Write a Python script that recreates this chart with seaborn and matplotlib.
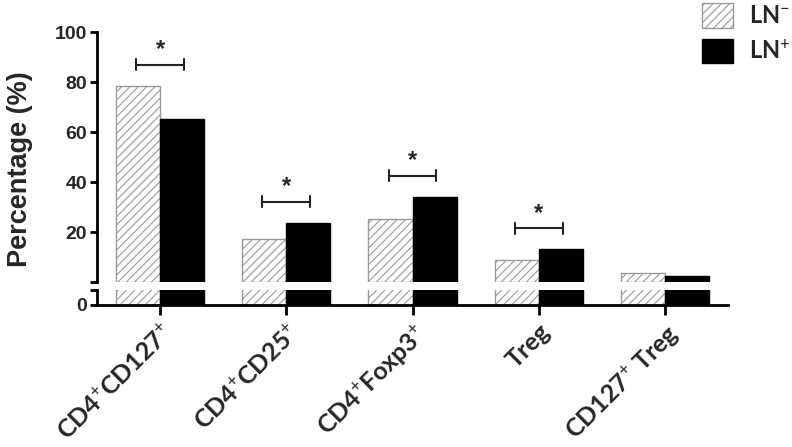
import matplotlib
matplotlib.use('Agg')
import matplotlib.pyplot as plt
from matplotlib.patches import Patch
import seaborn as sns
import pandas as pd

# data
categories = [r'CD4$^{+}$CD127$^{+}$', r'CD4$^{+}$CD25$^{+}$', r'CD4$^{+}$Foxp3$^{+}$',
              'Treg', r'CD127$^{+}$ Treg']
ln_neg = [78.4, 17.2, 25.2, 8.8, 3.7]
ln_pos = [65.2, 23.7, 34.0, 13.1, 2.4]
significant = [True, True, True, True, False]
groups = ['LN-', 'LN+']

sns.set_style('white')
plt.rcParams['font.family'] = ['Liberation Sans', 'DejaVu Sans']
plt.rcParams['mathtext.fontset'] = 'custom'
plt.rcParams['mathtext.rm'] = 'Lato'
plt.rcParams['mathtext.default'] = 'rm'
plt.rcParams['hatch.linewidth'] = 0.8
plt.rcParams['hatch.color'] = '#bdbdbd'

HATCH_EDGE = '#9a9a9a'

df = pd.DataFrame({
    'cell': categories * 2,
    'group': [groups[0]] * len(categories) + [groups[1]] * len(categories),
    'value': ln_neg + ln_pos,
})

fig = plt.figure(figsize=(7.92, 4.47), dpi=100)
ax_top = fig.add_axes([0.1225, 0.369, 0.7967, 0.559])
ax_bot = fig.add_axes([0.1225, 0.3177, 0.7967, 0.0336])

for ax in (ax_top, ax_bot):
    sns.barplot(data=df, x='cell', y='value', hue='group', palette=['white', 'black'],
                width=0.7, saturation=1, legend=False, ax=ax)
    for bar in ax.containers[0]:
        bar.set_hatch('////')
        bar.set_edgecolor(HATCH_EDGE)
        bar.set_linewidth(1.0)
        if hasattr(bar, 'set_hatchcolor'):
            bar.set_hatchcolor('#bdbdbd')
    for bar in ax.containers[1]:
        bar.set_edgecolor('black')
        bar.set_linewidth(1.0)
    ax.set_xlim(-0.5, len(categories) - 0.5)
    ax.set_xlabel('')
    ax.set_ylabel('')
    for s in ('top', 'right'):
        ax.spines[s].set_visible(False)
    ax.spines['left'].set_linewidth(2)
    ax.spines['left'].set_color('black')
    ax.tick_params(axis='y', direction='out', length=5, width=2, color='black',
                   labelsize=14, pad=2, left=True)

# upper segment
ax_top.set_ylim(0, 100)
ax_top.set_yticks([0, 20, 40, 60, 80, 100])
ax_top.set_yticklabels(['', '20', '40', '60', '80', '100'], fontweight='bold')
ax_top.spines['bottom'].set_visible(False)
ax_top.tick_params(axis='x', bottom=False, labelbottom=False)

# lower segment (all bars run through it)
ax_bot.set_ylim(0, 2)
ax_bot.set_yticks([0, 2])
ax_bot.set_yticklabels(['0', ''], fontweight='bold')
ax_bot.spines['bottom'].set_linewidth(2)
ax_bot.spines['bottom'].set_color('black')
ax_bot.tick_params(axis='x', direction='out', length=7, width=2, color='black', bottom=True)
ax_bot.set_xticks(range(len(categories)))
ax_bot.set_xticklabels(categories, rotation=45, ha='right', va='top',
                       rotation_mode='anchor', fontsize=18, fontweight='bold',
                       family=['Lato', 'DejaVu Sans'])

# significance brackets
for i, sig in enumerate(significant):
    if not sig:
        continue
    y = max(ln_neg[i], ln_pos[i]) + 8.5
    ax_top.plot([i - 0.19, i + 0.19], [y, y], color='#222222', lw=1.5)
    ax_top.plot([i - 0.19, i - 0.19], [y - 2.2, y + 2.2], color='#222222', lw=1.5)
    ax_top.plot([i + 0.19, i + 0.19], [y - 2.2, y + 2.2], color='#222222', lw=1.5)
    ax_top.text(i, y + 6.0, '*', ha='center', va='center', fontsize=17,
                fontweight='bold')

fig.text(0.025, 1 - 169 / 447, 'Percentage (%)', rotation=90, ha='center', va='center',
         fontsize=19.5, fontweight='bold')

handles = [Patch(facecolor='white', edgecolor=HATCH_EDGE, hatch='////', lw=1.0),
           Patch(facecolor='black', edgecolor='black')]
fig.legend(handles, [r'LN$^{-}$', r'LN$^{+}$'], loc='upper right',
           bbox_to_anchor=(1.025, 1.04), frameon=False, handlelength=1.3,
           handleheight=1.2, labelspacing=0.45, handletextpad=0.7,
           prop={'family': ['Lato', 'DejaVu Sans'], 'weight': 'bold', 'size': 17})

fig.savefig('out.png', dpi=100)
